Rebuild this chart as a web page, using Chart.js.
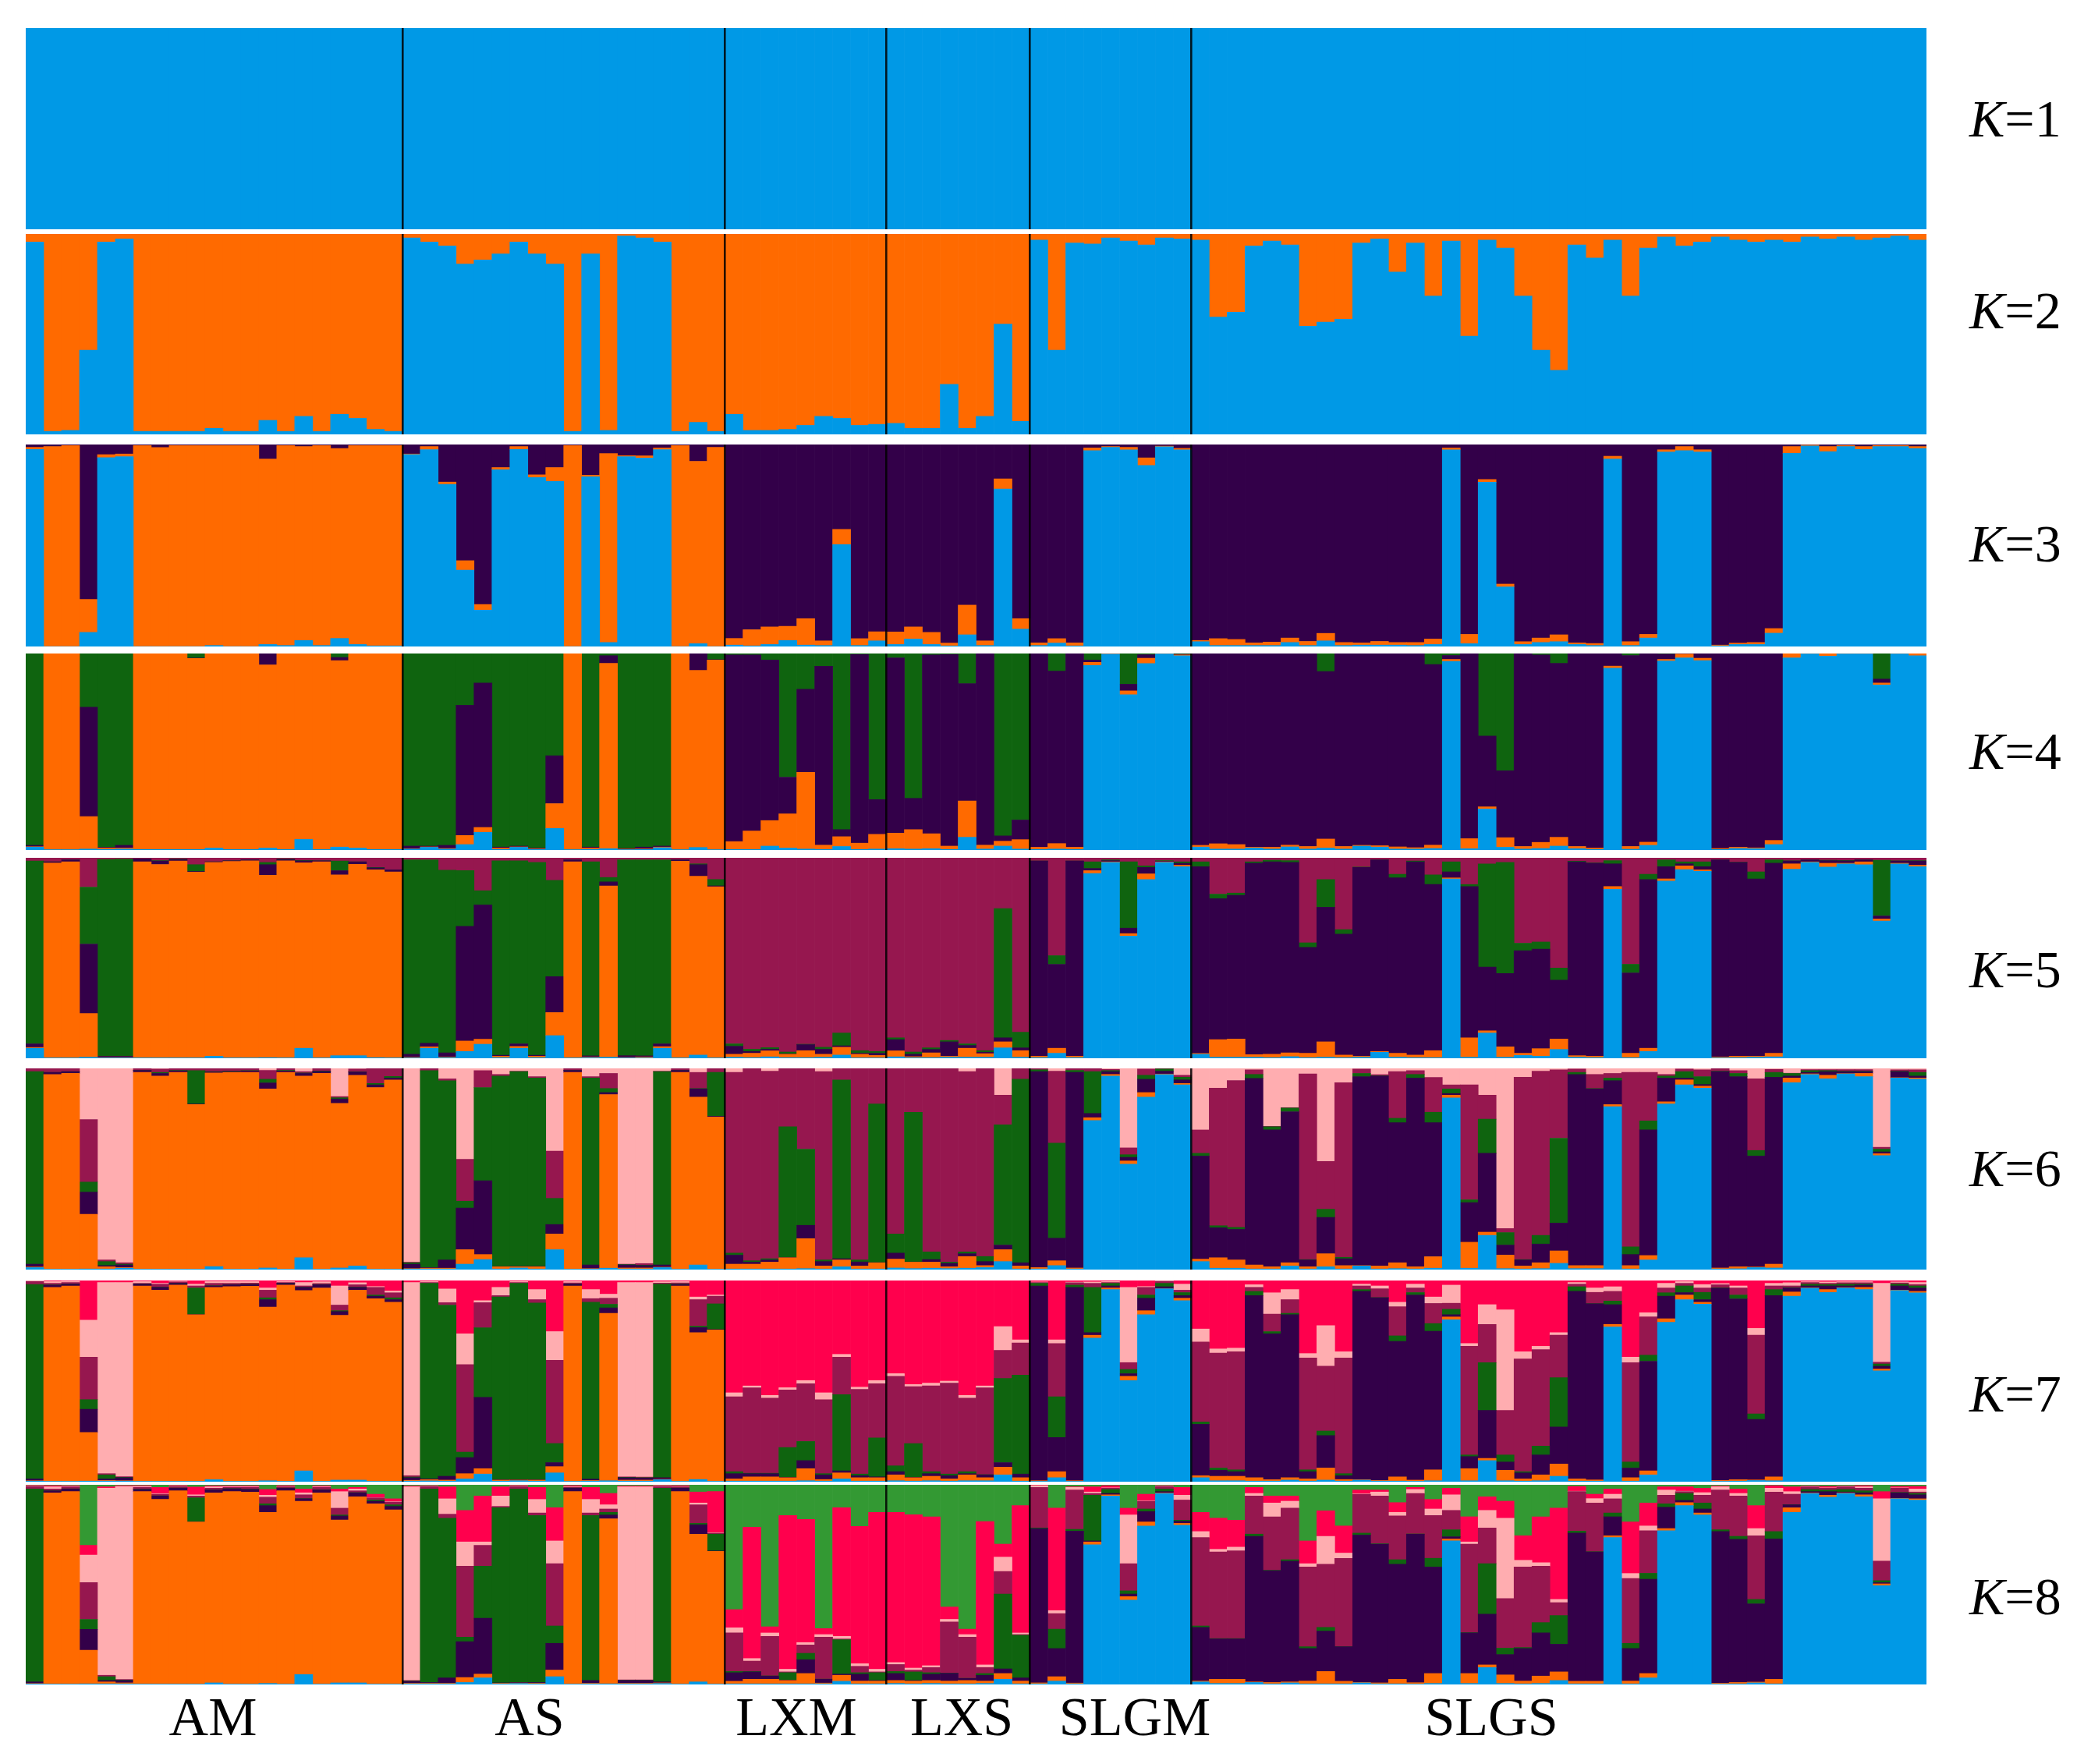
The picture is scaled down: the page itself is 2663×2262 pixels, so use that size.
<!DOCTYPE html>
<html>
<head>
<meta charset="utf-8">
<title>STRUCTURE bar plots K=1 to K=8</title>
<script src="https://cdn.jsdelivr.net/npm/chart.js@4"></script>
<style>
html,body{margin:0;padding:0;background:#fff;}
#page{position:relative;width:2663px;height:2262px;overflow:hidden;background:#fff;}
.panel{position:absolute;filter:blur(0.7px);}
.txt{position:absolute;font-family:"Liberation Serif",serif;color:#000;white-space:nowrap;line-height:1;filter:blur(0.4px);}
</style>
</head>
<body>
<div id="page"></div>
<script>
// Groups and their number of individuals (columns)
const groupNames = ["AM","AS","LXM","LXS","SLGM","SLGS"];
const groupSizes = [21,18,9,8,9,41];
const kLabels = [1,2,3,4,5,6,7,8];

// Values: each array is the upper edge (cumulative %) of
// that cluster in each individual's column; the top cluster of a panel fills to 100.
const k1_blue = [
100,100,100,100,100,100,100,100,100,100,100,100,100,100,100,100,100,100,100,100,100,
100,100,100,100,100,100,100,100,100,100,100,100,100,100,100,100,100,100,
100,100,100,100,100,100,100,100,100,
100,100,100,100,100,100,100,100,
100,100,100,100,100,100,100,100,100,
100,100,100,100,100,100,100,100,100,
100,100,100,100,100,100,100,100,100,100,100,100,100,100,100,100,100,100,100,100,100,100,100,100,100,100,100,100,100,100,100,100];

const k2_blue = [
96,1.5,2,42,96,97.5,1.5,1.5,1.5,1.5,3,1.5,1.5,7,1.5,9,1.5,10,8,2.5,1.5,
98,96,94,85,87,90,96,90,85,1.5,90,2,99,98,96,1.5,6,1.5,
10,2,2,2.5,4.5,9,8,4.5,5,
5.5,3,3,25,3,9,55,6.5,
97,42,95.5,95,98,96.5,94.5,98,97.5,
97,58.5,61,94,96.5,94.5,54,56,57.5,
95.5,97.5,81,95.5,69,96.5,49,97,93,69,42,32,94.5,88,97,69,93,98.5,94,96,98.5,97,96,97,96,98.5,97.5,98.5,97,98,99,97];

const k3_blue = [
97.6,0,0,7,93.5,94,0,0,0,0,.5,0,0,1,.5,3,.5,4,1,.3,.3,
95,97.5,80.3,37.8,18,87.5,97.6,83.7,81.7,0,84,2,94,93.3,97.5,0,1.4,0,
.7,.3,1,3,.7,.5,50.5,.5,2.8,
1,3.7,1,.3,5.8,.5,78,8.6,
.5,1.7,.3,97,98.6,97.4,89.6,98.9,97.4,
2.4,.5,.5,.5,.5,2,.5,2.8,.5,
.7,.7,.7,.5,1,97.4,1.4,81.3,29.5,1,2,2.4,1,.5,92.8,.5,4.2,96.3,97,96.3,.3,1,1,6.6,95.6,99.3,96.5,99,97.6,99,99,98];
const k3_orange = [
98.6,99,99.5,23.3,95,95.3,99.5,98.5,99.5,99.5,99.5,99.5,99.5,92.8,99.5,99,99.5,98,99.5,99.5,99.5,
95.3,99,81.4,42.5,20.8,88.6,99,85,88.6,99.5,84.8,95.5,94.5,94.4,98.3,99.5,91.7,98.6,
4,8.3,9.7,10,13.8,2.8,58,3.9,7.3,
7.2,9.7,7,1.7,20.5,2.8,83,13.8,
1.8,3.9,1.8,98.3,99,98.6,93.4,99.2,98.1,
3,3.9,3.5,1.8,2.2,4.2,2.5,6.5,2,
1.8,2.5,2,2,3.7,98.3,6,82.7,30.9,2.4,4.2,5.8,1.8,1.5,94.2,2.4,6,97.4,99,97.4,.7,1.7,2,8.9,99,99.7,99,99.5,99,99.5,99.5,99];

const k4_blue = [
1.5,.2,.2,.5,.3,.5,.3,.3,.3,.3,1,.3,.3,1,.3,5.4,.3,1.5,1,.3,.3,
.5,1.4,.5,2.8,9,.3,1.4,.3,11,.2,.3,.7,.2,.3,1.2,.2,1.3,.2,
.3,.3,2,1,.5,.3,1.8,.3,.5,
.7,.5,.7,.3,6.5,.5,2,.5,
.3,.5,.3,93.9,99.7,79,94.9,99.8,98.9,
1.5,.5,.5,1,.5,1.6,.5,1,.5,
2,1.5,.5,.5,.8,96,.7,20.9,1.4,.5,.8,2,.7,.3,92.5,.4,2.4,96.2,97.8,96.4,.3,.8,.7,2.8,97.8,99.8,98.7,99.8,99.8,84,99.8,98.9];
const k4_orange = [
1.7,100,100,17,1,1,100,100,100,97.5,100,100,100,94.2,100,100,100,96.4,100,100,100,
.7,1.6,.8,7.4,11.5,1,1.6,.6,23.6,100,1,95,.5,.6,1.5,100,91.4,96.7,
4.3,9.7,15,18.4,39.6,2.5,6.8,3.5,8,
8.6,10.4,8.3,2,25,2.5,4.5,5.3,
1.4,3.3,1.4,95.5,99.8,81,97.6,99.9,99.3,
2.4,3.2,2.8,1.4,1.4,2.5,1.8,5.6,1.8,
2.4,2.2,1.6,1.2,2.5,97,5.8,22,6.3,1.8,3.9,6.5,1.8,1,93.6,1.8,4,97,99.7,97.6,.8,1.4,1.1,4.9,100,99.9,100,99.9,99.9,85,99.9,100];
const k4_purple = [
2.4,100,100,72.7,1.4,2.4,100,100,100,97.7,100,100,100,100,100,100,100,98,100,100,100,
2,2,2.4,73.7,85,1.5,2,1,48,100,1.5,98.9,.8,1.5,2,100,100,96.9,
99.3,99.3,96.7,37.1,81.8,93.5,10.4,99.5,25.7,
97.8,26.3,99.3,99.5,84.7,100,7.2,15.3,
100,91,100,96.7,99.9,84.4,99.4,100,99.6,
100,100,100,100,100,100,100,90.8,100,
100,100,100,100,94.4,99,100,58,40.3,100,99.3,95,100,100,100,99,100,99.7,100,100,100,100,100,100,100,100,100,100,100,87,100,100];

const k5_blue = [
5,.2,.2,.5,.2,.2,.2,.2,.2,.2,1,.2,.2,.3,.2,5,.2,1.3,1.3,.3,.2,
.2,5,.3,3.4,7,.3,5,.3,11.3,.2,.3,.5,.2,.2,5,.2,1.6,.2,
.5,.3,.7,.3,.3,.5,1.6,.2,.2,
.7,.3,.3,.5,.5,.5,5.2,.5,
.3,2.5,.3,92.2,97.7,61,89.2,97.7,95.6,
2,.5,.5,.5,.3,.8,.3,.5,.3,
.5,3,.5,.3,.3,89.5,.5,12.6,.5,1.4,1,4.4,.5,.3,84.3,.3,3.4,88.4,94.1,93.3,.2,.3,.5,.7,94.3,97.7,95.4,97,96.6,68.5,97,95.6];
const k5_orange = [
5.4,97.4,98,22.3,.4,.4,98,96.7,98.4,92.9,97.7,98.2,98.5,91.3,98.5,97.5,98,91.5,96.8,94,93,
.5,5.7,.6,8.6,9.5,1,5.9,1,22.8,98,.6,86,.4,.6,5.8,98.3,90.8,85.6,
2,2.5,3.7,2,3.8,2,5.5,2,1.4,
3.7,.8,2.7,1,5,2.3,8.2,3.8,
1,5,1,93.6,98,62.2,92,98,96.3,
2.4,9.3,9.6,1.8,2,2.7,2.5,8.2,1.6,
1,3.4,2.5,1.6,3.8,90,10.2,13.7,5.7,2.5,4.8,9.6,1.3,1,85.7,2.5,5,89.5,96,94,.6,1,1,2.5,97,98,97.3,97.3,98,69.5,97.3,96.3];
const k5_purple = [
7.2,98,99,57,1,1,99.5,98.4,99.2,93.2,98,98.5,99,96.6,99.2,98.5,98.5,93.6,98,95,94,
2,7.5,2.7,65.8,76.5,1.5,7.2,1.5,40.7,99,1.2,88,1.3,1.2,7.2,99,96.6,86,
6,3.4,4.5,2.2,6.8,4.5,6.2,2.5,2.5,
9.3,2,4.4,8.2,6.4,3,10.2,5.2,
98.4,46.9,98.4,94.7,98.6,64.9,95.2,98.3,97.3,
95.6,79.6,81.3,97.3,98,97.7,55.3,75.4,61.9,
95.2,99,90,98,86.7,93,85.7,45.5,42.3,53.7,54.4,39,98,97.3,97,42.6,89.2,95.6,97,95.6,99,97.7,89.5,97.3,98.4,99,98.6,98.5,99,71,98.4,98.4];
const k5_green = [
98.4,98,99,85.4,99.2,99.4,99.5,98.6,99.4,96.6,98,98.5,99,97.7,99.4,98.7,98.5,98.4,98,95.2,94,
99,99,93.8,93.6,83.6,98.5,98.5,97.7,88.8,99,98,90.2,99,99,99,99,97,89.2,
7.2,4.5,5.3,3.1,7,5.5,12.6,3.8,3.4,
10.2,3.1,5.2,8.9,7.2,3.8,74.7,13,
98.4,51.2,98.4,98,99,98,96,98.6,98,
98,81.9,82.4,98,98.8,98.6,57.6,89.2,64.2,
95.4,99,91.8,98.4,91.5,98,86.7,97,97.7,57.4,58,45,98.3,97.5,98.6,46.9,91.8,99,98,98,99,97.8,93,99,98.5,99,98.8,98.7,99,98.8,98.5,98.6];

const k6_blue = [
1,.2,.2,.3,.3,.7,.2,.2,.2,.2,1.5,.2,.2,.8,.2,5.9,.2,.8,1.8,.2,.2,
.3,.3,.3,2.7,5,.3,.8,.3,9.9,.2,.3,.7,.3,.3,1,.2,2.3,.2,
.3,.3,.3,.3,.5,.3,1.4,.3,.3,
.8,.5,.7,.5,.7,1,4,.3,
.3,2,.3,74.1,96.2,52.4,85.7,97,91.8,
4,.7,.7,.3,.3,1.8,.3,1.4,.3,
1.8,.3,.5,.3,.7,85.3,.7,17,.5,.3,.5,3.1,.5,.5,81,.3,4.8,82.3,91.8,90.2,.3,.4,1,.8,92.9,97,94.8,97.3,95.9,56.7,95.2,94.6];
const k6_orange = [
1.3,97,97.5,27.5,1.4,1,98,96.2,98,82,97.7,98,98,89.8,98,96.2,97.5,82.6,96.6,90.5,94.3,
.5,.7,.7,9.9,7.5,1.4,1.4,1.4,17.7,98,.5,87,.8,.8,1.2,98,85.7,75.8,
2.7,2.7,3.7,5.9,15.4,1.8,4.8,1.8,3.4,
5.2,3.7,3.7,1.4,6.5,2,9.9,1.8,
1,4.4,.8,75.5,97,54,88,97.2,92.5,
5.2,5.9,4.8,2.3,1.4,3.4,1.4,7.9,2,
2,1.8,3.4,1.4,6.4,86.7,13.6,18.6,7.2,1.8,3.4,9.3,2,2,82,2,7,83.4,94.3,91.2,.8,1.4,1.3,2.7,95.2,97.3,96.6,97.4,97.5,57.6,95.4,95.2];
const k6_purple = [
2.7,98,98.4,38.5,2,2.3,99,97.5,98.8,82.3,98.2,98.5,98.7,92.8,98.7,97.5,98.5,84.8,98.2,91.8,95.2,
2.7,1,4.8,30.6,44.2,1.5,1.6,1.6,22.4,99,2.3,88,2.3,2,2.3,99,89.8,76.2,
7.2,3.7,4.8,6,22,4,5.4,3.8,3.5,
8.2,3.8,5,3.1,7.9,4,12.2,3.4,
98.4,15.6,98,77.6,98.4,55.8,94.6,98.6,94.3,
56.5,20.8,20,95,69.4,78.5,4.8,25.9,5.4,
95.9,96.2,73,95.2,73,87.5,33.3,57.8,12.2,4.8,12.7,23.1,97,89.8,93.9,7.5,69.4,95.2,95.2,92,98.4,95.9,56.5,95.6,96.2,98,98.4,98.4,98.4,58.5,98.4,96.2];
const k6_green = [
98.4,98,98.4,43.5,4,2.7,99,98,99,98.9,98.4,98.7,98.9,94.6,99,97.7,98.7,85.4,98.3,92.5,96,
3.4,98.9,93.9,34,90.5,96.2,98.4,95.2,35.4,99,95.2,90,2.5,2.2,98.4,99,90,98,
8.2,4.4,5.4,71,59.9,4.8,94.3,4.8,82.3,
17.7,78.2,8.8,3.7,8.8,6.5,72,94.6,
99.3,62.9,99,98.4,98.9,57.1,96.6,99.7,95.6,
57.8,21.8,21,97,71,80.3,5,30,6.1,
97.5,96.3,75.2,97,78.2,89.8,34.7,74.8,18.4,5,17,65.3,98,90,95.2,11.3,73.9,96.2,98.4,95.9,98.6,97.5,59.2,98,97.5,98.9,98.9,98.6,98.6,59.9,98.6,98];
const k6_maroon = [
100,100,100,74.6,4.8,3.4,100,99.7,100,100,100,100,100,99,100,98.4,100,86,99.7,100,100,
3.7,100,94.8,54.8,98.9,97,98.6,95.9,58.9,100,95.9,97.5,2.7,3,98.6,100,98,100,
98,100,98.6,100,100,98.4,100,100,100,
100,100,100,100,98.4,100,86.7,100,
100,98.6,100,100,99.5,60.5,99.7,100,96.6,
69.4,90.2,94,99.3,71.2,80.5,97.3,53.7,92.9,
99.7,96.9,98.4,98.9,95.5,91.8,91.8,86.7,20.4,95.6,98.6,99.3,99.7,97,97.5,98,98,97,99.7,99.3,100,98.9,94.8,99.5,97.6,99.4,99.4,99.4,99.4,60.8,99.3,99.3];

const k7_blue = [
.3,.2,.2,.3,.3,.3,.2,.2,.2,.2,1,.2,.2,.5,.2,5.4,.2,.8,.8,.2,.2,
.3,.4,.3,1.4,3.8,.3,.5,.3,4.4,.2,.3,.5,.3,.3,1,.2,1.1,.2,
.3,.3,.3,.3,.5,.3,1.4,.3,.3,
.5,.3,.5,.3,.5,.5,3.4,.3,
.2,2,.2,71.4,95.5,50.3,83,95.9,90,
2,.5,.5,.3,.3,.8,.3,.8,.3,
.8,.3,.3,.2,.5,80.5,.5,10.5,.5,.3,.5,2.7,.3,.3,76.9,.3,3.4,79.2,90.5,88.2,.2,.3,.6,.5,92.2,96.2,94.1,96.3,95.5,55.1,95,93.9];
const k7_orange = [
.5,96.6,97.3,24.5,.6,.5,97.3,95.2,97.7,83,96.6,97,97.2,86.8,97.7,95,96.3,82.7,95.2,91,89.2,
.7,1,.8,4,6.5,.8,.8,.8,7.5,97.3,.6,83.7,.8,.8,1.2,97.3,74.1,75.5,
1.4,2.4,2.4,2,6.5,1.1,4.4,2,2,
3.4,2,2.7,1.4,3.4,2,7.2,2,
.5,5,.5,72.8,96.3,52.4,85,96,91.2,
3,2.7,2.7,2,1,2,1.4,6.8,1.1,
1,.6,2.4,.8,5.9,81.9,6.5,11.6,5.7,1.4,3.4,8.8,1.4,.9,78.2,2,5.4,81,92.8,89.2,.6,1,.9,2.4,94.3,96.4,95.5,96.5,96.6,56,95.2,94.6];
const k7_purple = [
1.4,97.7,98.2,36,1.4,2,98.2,96.6,98.6,83.1,97.3,97.9,98,90.5,98.6,96.6,97.9,84.6,96.6,92.2,90.5,
2,1.4,2.7,12,41.9,1,1,1,9.5,98.2,1.3,86.4,2,1.8,2,98,76.6,75.7,
4,4,4,2.2,10.5,3.4,5.4,3,2.4,
5,2.2,4,3,4,3.4,9.5,3.8,
97.3,22,96.6,74.1,97.3,53.7,91.2,96.9,92.5,
28.6,5.7,5,92.5,73.5,83,5,22.9,3,
94.6,91.4,69.7,92.8,74.8,83,12.5,35.4,9.8,4.4,13.3,27.2,94.6,88.4,88,6.8,59.9,92.2,94,90.5,96.2,90.9,31,92.5,96.3,97.3,97.3,97.3,97.7,57.4,97.3,96.3];
const k7_green = [
98,97.8,98.3,40.8,3.4,2.2,98.3,96.7,98.7,96.3,97.4,98,98.1,91.4,98.7,96.7,98,85,96.7,92.8,91.4,
2.3,98.6,87.8,14.7,76.5,91.8,98.6,88.8,19,98.3,89.2,88.2,2.2,2,98.2,98.2,77.3,88.4,
5,4.2,4.2,17,20,4,43.3,3.8,21.8,
7.9,19,5,3.8,5,3.5,51.3,53,
98.6,42.2,97.7,96.6,98.6,55.8,92.8,98.6,94,
29.7,6.8,5.9,94.6,74.6,83.7,5.9,25.2,4,
95.5,91.5,72.5,94,78.6,85.7,13.3,59.2,13.3,5,17.7,51.7,96.9,88.5,89.8,9.8,62.9,93.9,97.3,94.1,96.4,92.8,33.7,95.5,96.5,98.2,98,98.2,98.2,58.5,98.2,97.3];
const k7_maroon = [
99.5,98.6,99,61.9,4,2.5,98.6,98.2,99.3,97.3,98.6,98.6,98.7,95.2,99,97.3,98.5,87.8,97.9,96.6,93.9,
3,99,89,58.2,89,92.5,99,90.5,60.3,98.8,91,91.2,2.4,2.3,98.7,98.8,90.5,92.2,
42.2,46.7,41.5,45.6,48.7,40.8,61.9,45.9,48.7,
52.4,47.3,47.6,49,41.5,46.7,65.3,69,
99,68.7,98.9,98.6,99,59.2,96.6,99.6,95.2,
69.4,63.9,64.6,96.6,83.3,90.5,61.5,57.4,61.5,
97.3,95.9,87,96.3,88.6,88.7,67.3,78.2,35.4,61,65.7,72.8,98.2,94.1,94.6,59.2,81.9,96.3,98.6,96.3,97.9,96.3,72.8,97.3,97.3,99,98.6,98.9,98.9,59.4,98.8,98];
const k7_pink = [
100,99.5,99.6,80.3,99,99,99.5,98.6,99.6,98.2,99.5,99.5,99.5,96.3,99.5,99,99.4,97.3,98.9,97,94.8,
99,99.5,95.8,73.5,90,96.6,99.5,95.5,74.6,99.5,95.5,93.2,99,99,99.4,99.5,91.8,92.8,
44.2,47.6,42.9,46.7,50.3,44.2,63.3,47,50.3,
53.7,48.3,49,50,42.9,47.6,77.1,70.5,
99.3,70.5,99.2,99.3,99.5,96.6,97,99.8,98.2,
75.9,66,66.4,97.9,93.9,95.5,63.7,77.6,64.6,
98.2,97.3,89.2,98.2,91.8,97.7,68.7,88,85.4,64.6,67.3,74.1,99,96.3,96.9,61.9,84,98.6,99.5,98,98.5,97.3,76.2,98.6,98.9,99.4,99.3,99.4,99.4,98.6,99.3,99];

const k8_blue = [
.3,.2,.2,.3,.3,.3,.2,.2,.2,.2,.8,.2,.2,.5,.2,5,.2,.8,.8,.2,.2,
.3,.3,.3,1,3.3,.3,.5,.3,3.9,.2,.3,.3,.3,.3,.5,.2,1.3,.2,
.3,.3,.3,.3,.3,.3,1.6,.3,.3,
.5,.3,.5,.3,.3,.5,2.6,.3,
.3,1.7,.3,70,94.4,42.3,79.4,95.7,79.8,
1.3,.5,.5,1,.3,.8,.3,.3,.3,
.8,.3,.3,.2,.5,71.9,.5,8.5,.5,.3,.5,2,.3,.3,73.6,.3,3.3,77,89.6,84.9,.2,.3,.8,.3,86.2,95.7,93.8,95.7,94,49.5,93,92.4];
const k8_orange = [
.5,96,96.6,17.2,1.3,.8,96.6,92.7,97,81.4,96,96.6,96.4,86.2,97,91.8,96,82.4,94,90.5,87.5,
.6,.6,.6,3.5,5.2,.6,.7,.6,7.2,96.6,.6,83,.6,.6,.8,96.6,75.3,66.7,
1.6,2.6,2.6,2,5.5,.7,4.6,1.7,1.7,
2,1.7,2,1.7,2,1.7,5.5,1.7,
.8,3.9,.7,71.4,95,44,81.4,95.9,80.7,
1.7,2.6,2.6,1.3,1,1.3,1.7,6.5,1.6,
1,.8,2.6,.9,5.5,72.9,5.5,9.8,4.8,1.7,4.2,6.3,1.6,1.6,74.5,1.7,5.5,78.1,91.1,85.9,.6,1,1.2,2.6,88.5,95.9,94.8,95.9,95,50.4,93.2,93];
const k8_purple = [
1.3,97,97.9,27.6,2,2,97.7,94.4,98.3,81.5,97.4,98,97.7,89.6,98.3,93,97.4,84.4,96,91.8,89.2,
1.5,1,3.3,21.5,33.2,.8,1,1,20.6,98.3,2,84.9,2,2,1.3,98.3,80,66.9,
5.9,6.3,4.2,2.2,12.4,2.6,5.2,5.2,2,
5.5,2,5.2,5.6,3,4.6,7.8,3.3,
78.1,18,76.8,71.9,95.7,45.3,86.6,96.6,81.8,
28.6,22.8,22.8,74.2,57,61.8,18,26.7,18.9,
74.9,70.3,60.2,75.3,58.9,74,25.8,35.2,15,18,25.8,20.2,75.8,66.4,84,18,52.7,88.8,92.2,87.9,76.6,72.7,40.4,72.9,90,96.6,96.6,96.4,96,51,96,95];
const k8_green = [
97.9,97.1,98,32.6,3.9,2.2,97.8,94.5,98.4,93.5,97.5,98.1,97.8,90.5,98.4,93.1,97.5,84.9,96.1,92.4,90,
1.7,97.9,83.3,23.7,59.2,88.5,97.9,84.6,29.3,98.4,84.6,86.2,2.1,2.1,98.3,98.4,80.7,75.3,
6.5,6.5,4.3,5.9,15.6,2.7,22.4,5.9,5.9,
6.5,6.3,5.9,5.7,3.1,5.5,45.3,24.7,
78.4,27.7,77.7,94.8,97.7,46.9,87.9,97.9,82.3,
29.3,23,23,75.3,57.2,62.5,18.9,28.6,19,
75.8,70.5,62.5,75.4,63.2,77.5,26,60.5,18.2,18.5,31,34.5,76.8,66.5,85.9,20.6,55.7,90.5,95.7,90.9,77.5,74.2,42.6,76.6,90.1,97.7,97.4,97.7,97,52,96.2,95.7];
const k8_maroon = [
99.2,97.9,99,51,4.6,2.5,98.7,95.3,99.2,94.4,98.3,98.7,98.7,93.8,99,95,98.7,88.3,97,93.5,91.4,
2,99.2,85.3,59.2,69.7,89.2,99.2,85.9,60.5,98.8,85.9,87.9,2.3,2.3,99.2,99,90,75.8,
25.8,11.7,24.1,6.3,19.8,23.7,22.8,9.1,6.3,
10,7.2,8.5,31.3,23.7,8.5,56.6,25,
98.7,35.5,97.4,95.7,98.3,60.5,91.8,99.2,92.4,
73.6,66.4,67,94.4,84,88.3,58.9,60.2,63.2,
95.3,94.4,84.4,95.7,84.6,87.2,70.3,78.4,43,58.9,59.2,41,96.6,90.9,93,53.1,77,94.8,96.6,94.8,97.4,94.4,74.5,96.4,95.3,99,98.3,99,98.3,61.8,98.3,96.4];
const k8_pink = [
99.4,99,99.3,64.8,98.3,99.2,99.2,95.6,99.4,95,99,99,99,94.8,99.2,96,99,96.6,97.9,93.6,91.6,
99,99.4,93,71.4,71.4,94.4,99.4,92.7,71.9,99.1,92.7,90,99,99,99.4,99.2,90.9,76,
28.4,13,25.8,7.6,21,25,24.1,10.4,7.6,
11,8.2,9.4,32.6,25,9.8,63.8,25.8,
99.6,37,98.7,96.4,98.5,84.9,92,99.4,94.8,
76.6,67.7,68.8,95.7,90.9,91.8,60.5,74.2,65.8,
95.5,96.4,86.2,97.7,87.9,95,71.4,87.2,83.3,62.2,61,42.6,96.8,93.1,95.3,55.6,79.4,97.4,96.8,96.1,99,95.7,78.1,98.3,96.6,99.2,98.5,99.2,99,93,98.5,97.9];
const k8_red = [
99.7,99.6,99.6,69.7,99,99.6,99.6,98.7,99.7,98.9,99.5,99.5,99.5,97.7,99.6,97.9,99.5,97.9,98.7,95.3,93,
99.4,99.6,99,87.2,94.4,99,99.7,98.7,88.5,99.6,98.7,95.7,99.4,99.4,99.7,99.6,96.4,96.6,
37.5,78.8,28.9,84.6,82.7,28,88.5,79.2,86.2,
86.2,85,84,38.8,27.7,81.6,70.3,89.6,
99.8,88.3,99,99,99.6,88.3,95.3,99.6,98.7,
86.2,83.3,82.3,98.7,94.4,94.4,71.9,87,79.4,
97.4,97.4,91.1,98.7,92.7,98.3,84,94,91.8,74.5,84,88.3,99.2,95.3,97.9,81.4,90.9,99,99,98.3,99.4,97.9,89.6,99.6,99,99.4,99.2,99.4,99.6,96.6,99.2,99.2];

// Cluster colours, bottom of the stack to the top
const clusterNames = ["blue","orange","purple","green","maroon","pink","red","lightgreen"];
const clusterColors = ["#0099E6","#FF6A00","#330049","#0F640F","#96174F","#FFADB0","#FF004D","#339933"];

const panelEdges = [
  [k1_blue],
  [k2_blue],
  [k3_blue,k3_orange],
  [k4_blue,k4_orange,k4_purple],
  [k5_blue,k5_orange,k5_purple,k5_green],
  [k6_blue,k6_orange,k6_purple,k6_green,k6_maroon],
  [k7_blue,k7_orange,k7_purple,k7_green,k7_maroon,k7_pink],
  [k8_blue,k8_orange,k8_purple,k8_green,k8_maroon,k8_pink,k8_red]
];

// Layout (pixels)
const plotLeft = 33, plotRight = 2470;
const panelTop =    [36, 300, 570, 838,1100,1370,1642,1904];
const panelBottom = [294,557, 829,1090,1357,1628,1900,2160];
const kLabelY =     [152,398, 697, 963,1243,1498,1787,2047];
const kLabelX = 2525, kFont = 68;
const groupLabelX = [273,679,1021,1233,1455,1912];
const groupLabelY = 2202, groupFont = 70;

const page = document.getElementById("page");
const total = groupSizes.reduce((a,b)=>a+b,0);
panelEdges.forEach((p,pi)=>p.forEach((arr,ai)=>{
  if(arr.length!==total) throw new Error("K="+(pi+1)+" array "+ai+" has "+arr.length+" values");
}));
const individuals = Array.from({length:total},(_,i)=>String(i+1));
const separators = [];
groupSizes.reduce((s,n)=>{ if(s>0) separators.push(s); return s+n; },0);

panelEdges.forEach((edges,pi)=>{
  const div = document.createElement("div");
  div.className = "panel";
  const h = panelBottom[pi]-panelTop[pi];
  const w = plotRight-plotLeft;
  div.style.cssText = `left:${plotLeft}px;top:${panelTop[pi]}px;width:${w}px;height:${h}px;`;
  const cv = document.createElement("canvas");
  cv.width = w; cv.height = h;
  cv.style.cssText = `display:block;width:${w}px;height:${h}px;`;
  div.appendChild(cv);
  page.appendChild(div);

  // Convert edges into cluster memberships for stacking
  const datasets = [];
  const n = edges.length + 1;
  for(let c=0;c<n;c++){
    const data = individuals.map((_,i)=>{
      const low = c===0 ? 0 : edges[c-1][i];
      const high = c===n-1 ? 100 : edges[c][i];
      return Math.max(0, high-low);
    });
    datasets.push({label:clusterNames[c],data,backgroundColor:clusterColors[c],borderWidth:0,
      barPercentage:1,categoryPercentage:1});
  }
  if(pi===0) datasets.length = 1, datasets[0].data = k1_blue;

  new Chart(cv,{
    type:"bar",
    data:{labels:individuals,datasets},
    options:{
      responsive:false,animation:false,devicePixelRatio:1,
      layout:{padding:0},
      plugins:{legend:{display:false},tooltip:{enabled:false},title:{display:false}},
      scales:{
        x:{stacked:true,offset:true,
          border:{display:false},
          ticks:{display:false,autoSkip:false},
          grid:{z:1,offset:true,drawTicks:false,
            color:c=>separators.includes(c.index)?"rgba(0,0,0,0.85)":"rgba(0,0,0,0)",
            lineWidth:c=>separators.includes(c.index)?2.6:0}},
        y:{stacked:true,min:0,max:100,display:false}
      }
    }
  });
});

// K labels
kLabels.forEach((k,i)=>{
  const el = document.createElement("div");
  el.className = "txt";
  el.style.cssText = `left:${kLabelX}px;top:${kLabelY[i]}px;font-size:${kFont}px;transform:translateY(-50%);`;
  el.innerHTML = `<i>K</i>=${k}`;
  page.appendChild(el);
});
// Group labels
groupNames.forEach((g,i)=>{
  const el = document.createElement("div");
  el.className = "txt";
  el.style.cssText = `left:${groupLabelX[i]}px;top:${groupLabelY}px;font-size:${groupFont}px;transform:translate(-50%,-50%);`;
  el.textContent = g;
  page.appendChild(el);
});
</script>
</body>
</html>
